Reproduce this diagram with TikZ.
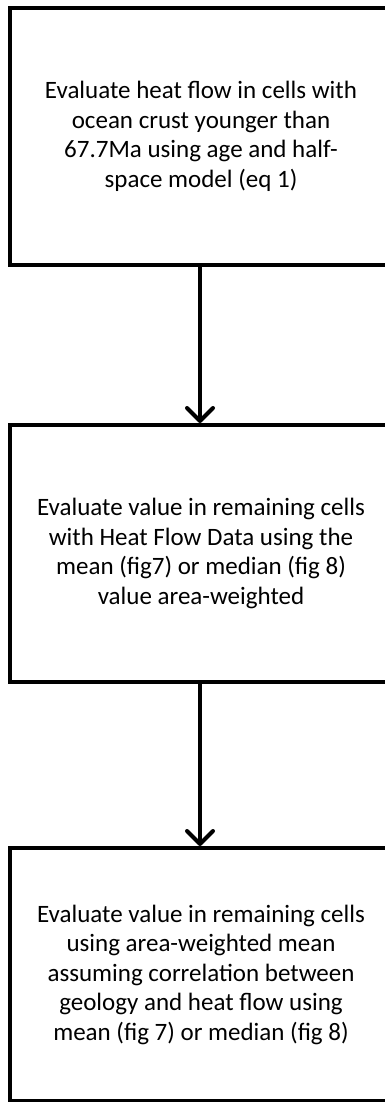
\documentclass[tikz,border=0pt]{standalone}
\usepackage{fontspec}
\setmainfont{Carlito}
\usetikzlibrary{arrows.meta}
\tikzset{
  stepbox/.style={draw=black, line width=4pt, rectangle, minimum width=382pt,
    align=center, inner sep=0pt, font=\fontsize{25}{29.5}\selectfont},
  flow/.style={line width=4pt, -{Straight Barb[length=13pt,width=26pt,line cap=round,line join=round]}}
}
\begin{document}
\begin{tikzpicture}
\useasboundingbox (0,0) rectangle (384pt,-1102pt);
\node[stepbox, minimum height=256.5pt] (b1) at (201pt,-136.25pt)
  {Evaluate heat flow in cells with\\ocean crust younger than\\67.7Ma using age and half-\\space model (eq 1)};
\node[stepbox, minimum height=257pt] (b2) at (201pt,-553.5pt)
  {Evaluate value in remaining cells\\with Heat Flow Data using the\\mean (fig7) or median (fig 8)\\value area-weighted};
\node[stepbox, minimum height=253pt] (b3) at (201pt,-974.5pt)
  {Evaluate value in remaining cells\\using area-weighted mean\\assuming correlation between\\geology and heat flow using\\mean (fig 7) or median (fig 8)};
\draw[flow] ([xshift=-1pt]b1.south) -- ([xshift=-1pt]b2.north);
\draw[flow] ([xshift=-1pt]b2.south) -- ([xshift=-1pt]b3.north);
\end{tikzpicture}
\end{document}
